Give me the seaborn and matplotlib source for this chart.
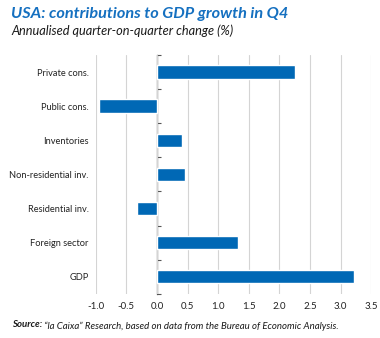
import matplotlib
matplotlib.use("Agg")
import matplotlib.pyplot as plt
import seaborn as sns
import numpy as np
import pandas as pd

categories = ["Private cons.", "Public cons.", "Inventories", "Non-residential inv.",
              "Residential inv.", "Foreign sector", "GDP"]
values = [2.25, -0.94, 0.41, 0.45, -0.32, 1.32, 3.22]
x_ticks = [-1.0, -0.5, 0.0, 0.5, 1.0, 1.5, 2.0, 2.5, 3.0, 3.5]
x_tick_labels = ["-1.0", "-0.5", "0.0", "0.5", "1.0", "1.5", "2.0", "2.5", "3.0", "3.5"]

title = "USA: contributions to GDP growth in Q4"
subtitle = "Annualised quarter-on-quarter change (%)"
source_bold = "Source:"
source_rest = " \u201cla Caixa\u201d Research, based on data from the Bureau of Economic Analysis."

df = pd.DataFrame({"category": categories, "value": values})

sns.set_theme(style="white")
plt.rcParams["font.family"] = ["Lato", "DejaVu Sans"]

BLUE = "#0068b5"
fig = plt.figure(figsize=(3.8, 3.38), dpi=100)
ax = fig.add_axes([0.252, 0.131, 0.725, 0.706])

sns.barplot(data=df, x="value", y="category", orient="h", color=BLUE,
            saturation=1, width=0.4, ax=ax, zorder=3)

ax.set_xlim(-1.0, 3.5)
ax.set_xticks(x_ticks)
ax.set_xticklabels(x_tick_labels)
ax.grid(axis="x", color="#d4d4d4", linewidth=0.8, zorder=0)
ax.grid(axis="y", visible=False)
ax.set_axisbelow(True)
for s in ax.spines.values():
    s.set_visible(False)
ax.set_xlabel("")
ax.set_ylabel("")
ax.tick_params(axis="x", length=0, labelsize=7, labelcolor="#222222", pad=6)
ax.tick_params(axis="y", length=0, labelsize=6.7, labelcolor="#222222", pad=5)

sec = ax.secondary_yaxis(0, transform=ax.transData)
sec.set_yticks(np.arange(-0.5, len(categories), 1.0))
sec.set_yticklabels([])
sec.tick_params(axis="y", direction="in", length=3, width=0.8, color="#555555")
sec.spines["left"].set_color("#555555")
sec.spines["left"].set_linewidth(0.9)
for k in ("right", "top", "bottom"):
    sec.spines[k].set_visible(False)

fig.text(0.029, 0.946, title, fontsize=11.7, fontweight="bold", fontstyle="italic",
         color="#1570c0", va="baseline", ha="left")
fig.text(0.029, 0.896, subtitle, fontsize=9.2, fontstyle="italic",
         color="#1a1a1a", va="baseline", ha="left")
t1 = fig.text(0.032, 0.032, source_bold, fontsize=6.9, fontweight="bold",
              fontstyle="italic", color="#1a1a1a", va="baseline", ha="left")
ax.annotate(source_rest, xy=(1, 0), xycoords=t1, fontsize=6.9, fontstyle="italic",
            color="#1a1a1a", va="baseline", ha="left", annotation_clip=False)

fig.savefig("out.png", dpi=100)
